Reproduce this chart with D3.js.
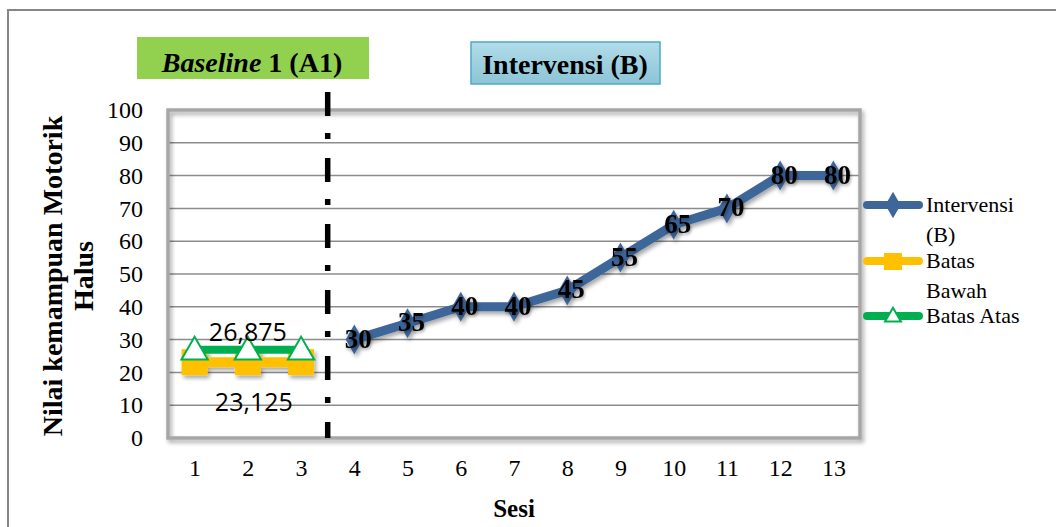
<!DOCTYPE html>
<html>
<head>
<meta charset="utf-8">
<script src="https://cdn.jsdelivr.net/npm/d3@7"></script>
<style>
  html, body { margin: 0; padding: 0; background: #fff; }
  svg { display: block; }
  .serif { font-family: "Liberation Serif", "Times New Roman", Times, serif; }
  .sans { font-family: "Open Sans", "Liberation Sans", sans-serif; }
</style>
</head>
<body>
<svg id="chart" width="1056" height="527"></svg>
<script>
// Sessions and scores
const sessions = [1, 2, 3, 4, 5, 6, 7, 8, 9, 10, 11, 12, 13];
const yTicks = [0, 10, 20, 30, 40, 50, 60, 70, 80, 90, 100];
const baselineSessions = [1, 2, 3];
const batasAtas = [26.875, 26.875, 26.875];
const batasBawah = [23.125, 23.125, 23.125];
const interventionSessions = [4, 5, 6, 7, 8, 9, 10, 11, 12, 13];
const interventionScores = [30, 35, 40, 40, 45, 55, 65, 70, 80, 80];
const batasAtasLabel = "26,875";
const batasBawahLabel = "23,125";
const phaseSplit = 3.5;

const svg = d3.select("#chart");
const plot = { left: 168, right: 860, top: 110, bottom: 438 };

const x = d3.scalePoint().domain(sessions).range([plot.left, plot.right]).padding(0.5);
const y = d3.scaleLinear().domain([0, 100]).range([plot.bottom, plot.top]);
const step = x.step();
const xPos = v => x(Math.floor(v)) + (v - Math.floor(v)) * step;

const defs = svg.append("defs");
const shadow = defs.append("filter").attr("id", "shadow")
  .attr("x", "-20%").attr("y", "-20%").attr("width", "140%").attr("height", "140%");
shadow.append("feDropShadow").attr("dx", 2).attr("dy", 3).attr("stdDeviation", 2)
  .attr("flood-color", "#000").attr("flood-opacity", 0.35);
const textGlow = defs.append("filter").attr("id", "textGlow")
  .attr("x", "-20%").attr("y", "-20%").attr("width", "140%").attr("height", "140%");
textGlow.append("feDropShadow").attr("dx", 1).attr("dy", 2).attr("stdDeviation", 1.5)
  .attr("flood-color", "#000").attr("flood-opacity", 0.35);
const blueGrad = defs.append("linearGradient").attr("id", "blueGrad")
  .attr("x1", 0).attr("y1", 0).attr("x2", 0).attr("y2", 1);
blueGrad.append("stop").attr("offset", "0%").attr("stop-color", "#B2DCE8");
blueGrad.append("stop").attr("offset", "100%").attr("stop-color", "#8CC4D7");

// outer frame
svg.append("rect").attr("x", 8).attr("y", 10).attr("width", 1060).attr("height", 530)
  .attr("fill", "none").attr("stroke", "#868686").attr("stroke-width", 2);

// gridlines
svg.append("g").selectAll("line").data(yTicks).join("line")
  .attr("x1", plot.left).attr("x2", plot.right)
  .attr("y1", d => y(d)).attr("y2", d => y(d))
  .attr("stroke", "#8c8c8c").attr("stroke-width", 1.5);

// plot border
svg.append("rect")
  .attr("x", plot.left).attr("y", plot.top)
  .attr("width", plot.right - plot.left).attr("height", plot.bottom - plot.top)
  .attr("fill", "none").attr("stroke", "#a6a6a6").attr("stroke-width", 3.5)
  .attr("filter", "url(#shadow)");

// y axis
const yAxis = svg.append("g")
  .attr("transform", `translate(${plot.left},0)`)
  .call(d3.axisLeft(y).tickValues(yTicks).tickSize(0).tickPadding(25));
yAxis.attr("font-family", null).attr("font-size", null);
yAxis.select(".domain").remove();
yAxis.selectAll("text").attr("class", "serif")
  .style("font-size", "24px").attr("fill", "#000");

// x axis
const xAxis = svg.append("g")
  .attr("transform", `translate(0,${plot.bottom})`)
  .call(d3.axisBottom(x).tickSize(0).tickPadding(21));
xAxis.attr("font-family", null).attr("font-size", null);
xAxis.select(".domain").remove();
xAxis.selectAll("text").attr("class", "serif")
  .style("font-size", "24px").attr("fill", "#000");

// axis titles
svg.append("text").attr("class", "serif")
  .attr("x", xPos(7)).attr("y", 517)
  .attr("text-anchor", "middle")
  .style("font-weight", "bold").style("font-size", "25px")
  .text("Sesi");

const yTitle = svg.append("text").attr("class", "serif")
  .attr("transform", `translate(62,${(plot.top + plot.bottom) / 2 + 2}) rotate(-90)`)
  .attr("text-anchor", "middle")
  .style("font-weight", "bold").style("font-size", "28px");
yTitle.append("tspan").attr("x", 0).attr("dy", 0).text("Nilai kemampuan Motorik");
yTitle.append("tspan").attr("x", 0).attr("dy", 31).text("Halus");

// phase headers
svg.append("rect").attr("x", 137).attr("y", 37).attr("width", 232).attr("height", 42)
  .attr("fill", "#92D050");
const baseTitle = svg.append("text").attr("class", "serif")
  .attr("x", 252).attr("y", 72).attr("text-anchor", "middle")
  .style("font-weight", "bold").style("font-size", "28px");
baseTitle.append("tspan").style("font-style", "italic").text("Baseline");
baseTitle.append("tspan").text(" 1 (A1)");

svg.append("rect").attr("x", 471).attr("y", 42).attr("width", 189).attr("height", 42)
  .attr("fill", "url(#blueGrad)").attr("stroke", "#4BACC6").attr("stroke-width", 1.5);
svg.append("text").attr("class", "serif")
  .attr("x", 565).attr("y", 74).attr("text-anchor", "middle")
  .style("font-weight", "bold").style("font-size", "28px")
  .text("Intervensi (B)");

// phase change line
svg.append("line")
  .attr("x1", xPos(phaseSplit)).attr("x2", xPos(phaseSplit))
  .attr("y1", 92).attr("y2", plot.bottom)
  .attr("stroke", "#000").attr("stroke-width", 5.5)
  .attr("stroke-dasharray", "24,17,6,19");

// baseline bands
const lineGen = d3.line().x(d => x(d[0])).y(d => y(d[1]));
const bawahPts = baselineSessions.map((s, i) => [s, batasBawah[i]]);
const atasPts = baselineSessions.map((s, i) => [s, batasAtas[i]]);

const bawahG = svg.append("g").attr("filter", "url(#shadow)");
bawahG.append("path").datum(bawahPts).attr("d", lineGen)
  .attr("fill", "none").attr("stroke", "#FFC000").attr("stroke-width", 10);
bawahG.selectAll("rect").data(bawahPts).join("rect")
  .attr("x", d => x(d[0]) - 13).attr("y", d => y(d[1]) - 13)
  .attr("width", 26).attr("height", 26).attr("fill", "#FFC000");

const atasG = svg.append("g");
atasG.append("path").datum(atasPts).attr("d", lineGen)
  .attr("fill", "none").attr("stroke", "#00B050").attr("stroke-width", 8);
const tri = d3.symbol().type(d3.symbolTriangle).size(300);
atasG.selectAll("path.m").data(atasPts).join("path").attr("class", "m")
  .attr("transform", d => `translate(${x(d[0])},${y(d[1]) + 2})`)
  .attr("d", tri).attr("fill", "#fff").attr("stroke", "#00B050").attr("stroke-width", 2);

svg.append("text").attr("class", "sans")
  .attr("x", x(2)).attr("y", y(batasAtas[1]) - 9).attr("text-anchor", "middle")
  .style("font-size", "25px")
  .text(batasAtasLabel);
svg.append("text").attr("class", "sans")
  .attr("x", x(2) + 6).attr("y", y(batasBawah[1]) + 49).attr("text-anchor", "middle")
  .style("font-size", "25px")
  .text(batasBawahLabel);

// intervention series
const intPts = interventionSessions.map((s, i) => [s, interventionScores[i]]);
const intG = svg.append("g").attr("filter", "url(#shadow)");
intG.append("path").datum(intPts).attr("d", lineGen)
  .attr("fill", "none").attr("stroke", "#3E6699").attr("stroke-width", 9)
  .attr("stroke-linejoin", "round").attr("stroke-linecap", "round");
const diamond = d3.symbol().type(d3.symbolDiamond).size(260);
intG.selectAll("path.m").data(intPts).join("path").attr("class", "m")
  .attr("transform", d => `translate(${x(d[0])},${y(d[1])})`)
  .attr("d", diamond).attr("fill", "#3E6699");

svg.append("g").attr("filter", "url(#textGlow)")
  .selectAll("text").data(intPts).join("text").attr("class", "serif")
  .attr("x", d => x(d[0]) + 4).attr("y", d => y(d[1]) + 8)
  .attr("text-anchor", "middle")
  .style("font-weight", "bold").style("font-size", "27px")
  .text(d => d[1]);

// legend
const legendItems = [
  { lines: ["Intervensi", "(B)"], color: "#3E6699", marker: "diamond", y: 205 },
  { lines: ["Batas", "Bawah"], color: "#FFC000", marker: "square", y: 261 },
  { lines: ["Batas Atas"], color: "#00B050", marker: "triangle", y: 316 }
];
const leg = svg.append("g");
legendItems.forEach(item => {
  const g = leg.append("g");
  g.append("line").attr("x1", 867).attr("x2", 919).attr("y1", item.y).attr("y2", item.y)
    .attr("stroke", item.color).attr("stroke-width", 8).attr("stroke-linecap", "round");
  if (item.marker === "diamond") {
    g.append("path").attr("transform", `translate(893,${item.y})`)
      .attr("d", d3.symbol().type(d3.symbolDiamond).size(200)).attr("fill", item.color);
  } else if (item.marker === "square") {
    g.append("rect").attr("x", 884).attr("y", item.y - 8).attr("width", 18).attr("height", 17)
      .attr("fill", item.color);
  } else {
    g.append("path").attr("transform", `translate(893,${item.y + 1})`)
      .attr("d", d3.symbol().type(d3.symbolTriangle).size(110))
      .attr("fill", "#fff").attr("stroke", item.color).attr("stroke-width", 2);
  }
  const t = g.append("text").attr("class", "serif").attr("x", 926).attr("y", item.y + 7)
    .style("font-size", "22px");
  item.lines.forEach((l, i) => t.append("tspan").attr("x", 926).attr("dy", i === 0 ? 0 : 30).text(l));
});
</script>
</body>
</html>
